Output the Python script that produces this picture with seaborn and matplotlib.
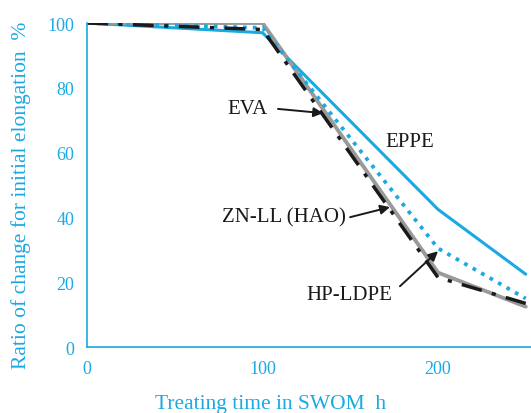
import matplotlib
matplotlib.use("Agg")
import matplotlib.pyplot as plt
import seaborn as sns
import pandas as pd

hours = [0, 100, 200, 250]
eppe = [100, 97, 42.5, 22.5]
hp_ldpe = [100, 98.5, 30.5, 15]
zn_ll = [100, 100, 23, 12.5]
eva = [100, 98, 21.5, 13.5]

x_ticks = [0, 100, 200]
y_ticks = [0, 20, 40, 60, 80, 100]

BLUE = "#1aa9e3"
INK = "#1a1a1a"

sns.set_theme(style="white")
plt.rcParams["font.family"] = ["Liberation Serif", "DejaVu Serif"]

fig = plt.figure(figsize=(5.31, 4.14), dpi=100)
ax = fig.add_axes([0.164, 0.159, 0.836, 0.783])

series = [
    ("EPPE", eppe, dict(color=BLUE, linewidth=2.2, linestyle="-")),
    ("ZN-LL (HAO)", zn_ll, dict(color="#9a9a9a", linewidth=2.8, linestyle="-")),
    ("HP-LDPE", hp_ldpe, dict(color=BLUE, linewidth=2.7, linestyle=(0, (1, 1.6)))),
    ("EVA", eva, dict(color=INK, linewidth=2.5, linestyle=(0, (6, 3, 1.2, 3)))),
]
for name, vals, kw in series:
    df = pd.DataFrame({"h": hours, "v": vals})
    sns.lineplot(data=df, x="h", y="v", ax=ax, **kw)

ax.set_xlim(0, 253)
ax.set_ylim(0, 100)
for ln in ax.lines:
    ln.set_clip_on(True)

for s in ["top", "right"]:
    ax.spines[s].set_visible(False)
for s in ["left", "bottom"]:
    ax.spines[s].set_color(BLUE)
    ax.spines[s].set_linewidth(1.2)

ax.set_xticks(x_ticks)
ax.set_yticks(y_ticks)
ax.tick_params(axis="both", direction="in", length=4, width=1, color=BLUE,
               labelcolor=BLUE, labelsize=13)
ax.tick_params(axis="x", pad=9)
ax.tick_params(axis="y", pad=9)
ax.set_xlabel("Treating time in SWOM  h", color=BLUE, fontsize=15.5)
ax.set_ylabel("Ratio of change for initial elongation  %", color=BLUE, fontsize=15.5)
ax.xaxis.set_label_coords(0.414, -0.135, transform=None) if False else None
ax.xaxis.label.set_va("center")
ax.yaxis.label.set_va("center")
ax.xaxis.set_label_coords((271 - 87) / 444, -(404 - 348) / 324)
ax.yaxis.set_label_coords(-(87 - 21) / 444, (348 - 195) / 324)

ann = dict(arrowstyle="-|>", color=INK, lw=1.4, mutation_scale=14, shrinkA=0, shrinkB=0)
fs = 15
ax.text(91.7, 73.5, "EVA", ha="center", va="center", fontsize=fs, color=INK)
ax.annotate("", xy=(134.5, 72.2), xytext=(108.8, 73.5), arrowprops=ann)
ax.text(184, 63.6, "EPPE", ha="center", va="center", fontsize=fs, color=INK)
ax.text(112.3, 40.1, "ZN-LL (HAO)", ha="center", va="center", fontsize=fs, color=INK)
ax.annotate("", xy=(172.6, 43.2), xytext=(149.9, 40.1), arrowprops=ann)
ax.text(149.3, 16.4, "HP-LDPE", ha="center", va="center", fontsize=fs, color=INK)
ax.annotate("", xy=(200, 29.6), xytext=(178.3, 18.8), arrowprops=ann)

fig.savefig("out.png", dpi=100)
